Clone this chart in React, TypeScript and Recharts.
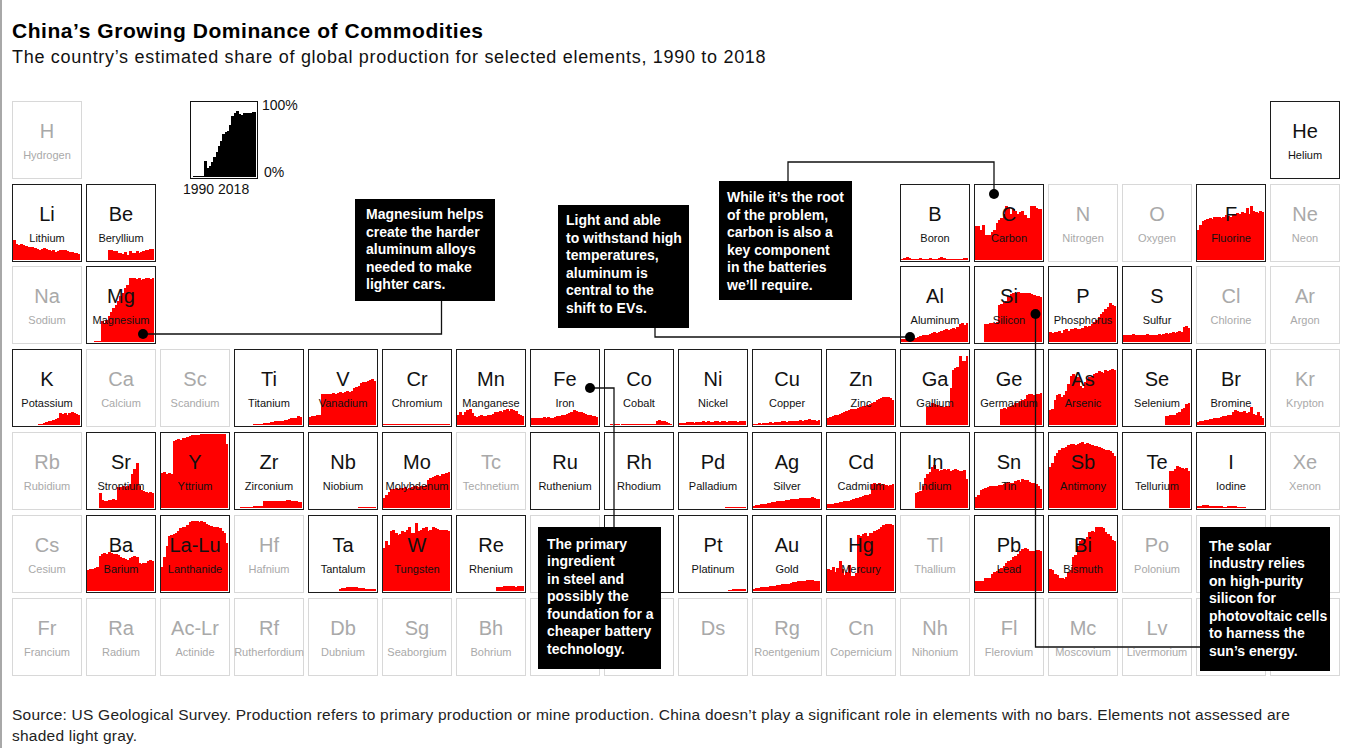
import React from 'react';
import { BarChart, Bar, XAxis, YAxis } from 'recharts';

// ---------- categories ----------
const YEARS = [
  '1990','1991','1992','1993','1994','1995','1996','1997','1998','1999',
  '2000','2001','2002','2003','2004','2005','2006','2007','2008','2009',
  '2010','2011','2012','2013','2014','2015','2016','2017','2018',
];

// ---------- series values (China share of global production, %) ----------
const legendV = [0,1,1,2,2,2,22,12,15,20,27,33,42,48,57,60,62,70,82,86,88,84,83,86,85,86,85,87,87];
const liV = [27,21,20,22,20,19,18,17,18,16,15,14,15,16,15,14,12,13,11,12,13,14,13,12,11,11,10,9,8];
const beV = [0,0,0,0,0,0,0,0,0,13,14,12,12,9,10,8,11,7,12,9,10,12,9,11,12,13,14,15,15];
const bV = [2,3,4,3,2,2,2,2,3,2,2,2,3,2,2,2,3,4,3,2,2,2,2,2,2,2,2,3,3];
const cV = [45,46,40,47,34,33,33,37,40,49,53,56,62,72,70,62,68,66,62,64,66,60,56,56,72,72,70,68,68];
const fV = [40,47,52,54,55,56,55,57,58,57,56,58,60,59,58,61,60,63,62,64,63,70,62,72,65,64,63,66,64];
const mgV = [0,0,0,1,1,1,28,26,30,35,40,45,50,55,62,66,72,76,86,85,86,84,85,83,84,86,85,84,85];
const alV = [4,4,5,4,5,6,6,7,8,9,9,10,11,12,13,12,14,15,16,17,16,18,19,18,20,24,26,23,25];
const siV = [0,0,0,0,24,24,25,26,26,27,50,51,53,55,62,64,66,66,67,66,65,66,66,65,64,63,62,61,60];
const pV = [13,12,14,13,15,12,16,17,15,18,17,19,18,17,19,21,20,22,24,27,30,33,37,40,44,47,52,50,48];
const sV = [9,10,9,10,11,10,10,9,9,10,11,10,10,9,10,11,10,11,12,11,12,13,12,14,15,14,20,21,19];
const kV = [0,0,0,0,0,0,0,0,0,0,0,1,2,3,4,5,6,7,8,10,16,15,16,14,16,17,16,15,14];
const tiV = [0,0,0,0,0,0,0,0,1,1,2,2,3,3,3,4,4,5,5,6,6,7,7,8,9,9,10,12,11];
const vV = [11,12,12,13,13,41,41,42,41,42,43,42,43,44,43,44,45,44,45,50,51,52,56,57,58,59,60,61,59];
const crV = [1,1,1,1,1,1,1,1,2,2,2,2,2,2,2,2,2,2,2,2,2,2,2,2,2,2,2,2,2];
const mnV = [14,17,13,18,20,21,16,12,11,12,13,12,12,13,13,15,17,18,19,18,20,22,19,21,20,19,15,13,12];
const feV = [10,9,10,9,10,11,10,11,10,10,11,12,12,13,14,15,16,18,20,19,18,17,16,15,14,13,12,12,11];
const coV = [0,0,1,0,1,1,0,1,2,1,1,1,1,2,1,1,2,2,1,2,2,2,6,7,6,5,4,3,2];
const niV = [3,3,3,4,4,4,3,4,4,4,5,4,5,4,4,5,5,4,5,5,4,5,6,5,5,4,5,5,5];
const cuV = [2,2,3,2,3,3,3,4,3,4,4,4,5,5,4,5,6,5,6,6,7,6,7,7,8,7,7,6,7];
const znV = [9,11,12,13,14,15,16,17,19,20,21,22,22,23,24,25,26,27,28,29,31,33,35,36,37,38,37,36,33];
const gaV = [0,0,0,0,0,0,0,0,0,0,0,24,25,29,28,27,26,25,24,25,26,50,74,76,77,92,86,85,92];
const geV = [0,0,0,0,0,0,0,0,0,0,0,22,23,22,24,25,27,29,30,32,33,35,40,41,42,40,41,42,43];
const asV = [20,22,34,40,42,38,40,45,55,65,68,66,64,52,50,58,62,64,66,68,70,72,71,70,73,72,74,75,73];
const seV = [0,0,0,0,0,0,0,0,0,0,0,0,0,0,0,0,0,0,12,12,13,13,14,16,17,22,23,28,29];
const brV = [4,5,6,7,7,8,8,9,9,10,11,12,12,13,14,18,20,19,17,18,19,16,17,24,15,13,17,12,10];
const srV = [0,0,0,0,0,20,11,10,10,11,11,12,11,28,28,29,28,30,32,45,52,60,30,24,23,21,20,21,20];
const yV = [47,48,46,47,45,90,91,92,91,93,94,95,96,97,97,98,98,99,99,99,99,99,99,99,99,99,99,99,85];
const zrV = [0,0,1,1,1,1,2,2,3,3,3,3,9,9,9,10,9,9,9,10,10,9,11,11,10,9,9,8,8];
const nbV = [0,0,0,0,0,0,0,0,0,0,0,0,0,0,0,0,0,0,0,0,0,1,1,1,1,1,1,1,1];
const moV = [14,18,22,25,26,27,26,27,27,28,26,27,28,29,30,28,29,30,31,37,40,42,43,44,43,45,46,47,48];
const pdV = [0,0,0,0,0,0,0,0,0,0,0,0,0,0,0,0,0,0,0,0,2,2,2,2,2,2,2,2,2];
const agV = [3,4,4,5,6,6,7,7,8,8,9,9,10,10,11,11,12,12,12,12,13,13,13,14,13,15,13,12,12];
const cdV = [5,6,6,7,7,8,8,9,9,10,11,12,13,14,15,16,17,18,19,32,33,32,33,31,32,31,30,31,32];
const inV = [0,0,0,0,0,0,20,22,23,30,40,45,48,55,58,52,50,51,52,51,52,50,51,52,51,49,50,51,39];
const snV = [15,17,24,26,27,28,29,29,30,30,31,31,32,34,35,33,34,36,37,35,39,38,37,35,34,33,32,30,26];
const sbV = [55,60,70,74,78,80,80,82,84,86,85,84,86,87,88,86,87,85,84,83,83,82,80,79,78,77,76,74,70];
const teV = [0,0,0,0,0,0,0,0,0,0,0,0,0,0,0,0,0,0,0,0,49,50,52,56,55,53,52,54,50];
const iV = [3,3,4,4,4,3,3,3,3,3,3,2,2,3,3,3,3,2,2,2,2,0,0,0,0,0,0,0,0];
const baV = [28,29,30,31,32,47,50,51,50,52,51,49,50,48,46,44,43,42,44,45,47,46,38,36,37,38,40,41,40];
const laluV = [32,45,60,74,75,76,77,80,84,85,86,88,92,93,93,93,92,93,92,90,88,87,86,85,86,84,80,78,64];
const taV = [0,0,0,0,0,0,0,0,0,0,0,0,0,3,4,4,5,6,5,6,5,4,4,4,3,3,3,3,3];
const wV = [58,67,62,80,82,78,75,76,80,79,82,85,78,77,91,80,82,84,85,80,82,86,84,83,82,81,82,81,80];
const reV = [0,0,0,0,0,0,0,0,0,0,0,0,0,0,0,0,0,6,6,6,7,7,7,7,7,6,7,7,7];
const ptV = [0,0,0,0,0,0,0,0,0,0,0,0,0,0,0,0,0,0,0,0,0,2,2,3,3,3,3,3,3];
const auV = [3,4,4,5,5,6,6,7,7,7,8,8,9,9,10,10,11,12,12,13,13,14,14,15,15,15,14,14,13];
const hgV = [30,28,32,26,31,40,30,22,25,35,20,20,24,75,74,76,78,73,77,78,80,82,83,85,88,89,90,89,88];
const pbV = [13,13,13,14,17,17,18,23,25,27,29,31,33,38,40,42,45,47,50,53,56,57,56,54,53,53,55,55,54];
const biV = [30,28,23,22,18,17,16,19,26,28,46,48,60,67,68,70,72,79,80,79,85,86,85,84,79,76,73,68,67];

const SERIES: Record<string, number[]> = {
  Li: liV, Be: beV, B: bV, C: cV, F: fV, Mg: mgV, Al: alV, Si: siV, P: pV, S: sV,
  K: kV, Ti: tiV, V: vV, Cr: crV, Mn: mnV, Fe: feV, Co: coV, Ni: niV, Cu: cuV, Zn: znV,
  Ga: gaV, Ge: geV, As: asV, Se: seV, Br: brV, Sr: srV, Y: yV, Zr: zrV, Nb: nbV, Mo: moV,
  Pd: pdV, Ag: agV, Cd: cdV, In: inV, Sn: snV, Sb: sbV, Te: teV, I: iV, Ba: baV,
  'La-Lu': laluV, Ta: taV, W: wV, Re: reV, Pt: ptV, Au: auV, Hg: hgV, Pb: pbV, Bi: biV,
};

// ---------- table of elements: [symbol, name, column, assessed] ----------
type El = [string, string, number, boolean];
const ROW_0: El[] = [['H','Hydrogen',0,false],['He','Helium',17,true]];
const ROW_1: El[] = [['Li','Lithium',0,true],['Be','Beryllium',1,true],['B','Boron',12,true],['C','Carbon',13,true],['N','Nitrogen',14,false],['O','Oxygen',15,false],['F','Fluorine',16,true],['Ne','Neon',17,false]];
const ROW_2: El[] = [['Na','Sodium',0,false],['Mg','Magnesium',1,true],['Al','Aluminum',12,true],['Si','Silicon',13,true],['P','Phosphorus',14,true],['S','Sulfur',15,true],['Cl','Chlorine',16,false],['Ar','Argon',17,false]];
const ROW_3: El[] = [['K','Potassium',0,true],['Ca','Calcium',1,false],['Sc','Scandium',2,false],['Ti','Titanium',3,true],['V','Vanadium',4,true],['Cr','Chromium',5,true],['Mn','Manganese',6,true],['Fe','Iron',7,true],['Co','Cobalt',8,true],['Ni','Nickel',9,true],['Cu','Copper',10,true],['Zn','Zinc',11,true],['Ga','Gallium',12,true],['Ge','Germanium',13,true],['As','Arsenic',14,true],['Se','Selenium',15,true],['Br','Bromine',16,true],['Kr','Krypton',17,false]];
const ROW_4: El[] = [['Rb','Rubidium',0,false],['Sr','Strontium',1,true],['Y','Yttrium',2,true],['Zr','Zirconium',3,true],['Nb','Niobium',4,true],['Mo','Molybdenum',5,true],['Tc','Technetium',6,false],['Ru','Ruthenium',7,true],['Rh','Rhodium',8,true],['Pd','Palladium',9,true],['Ag','Silver',10,true],['Cd','Cadmium',11,true],['In','Indium',12,true],['Sn','Tin',13,true],['Sb','Antimony',14,true],['Te','Tellurium',15,true],['I','Iodine',16,true],['Xe','Xenon',17,false]];
const ROW_5: El[] = [['Cs','Cesium',0,false],['Ba','Barium',1,true],['La-Lu','Lanthanide',2,true],['Hf','Hafnium',3,false],['Ta','Tantalum',4,true],['W','Tungsten',5,true],['Re','Rhenium',6,true],['Os','Osmium',7,false],['Ir','Iridium',8,true],['Pt','Platinum',9,true],['Au','Gold',10,true],['Hg','Mercury',11,true],['Tl','Thallium',12,false],['Pb','Lead',13,true],['Bi','Bismuth',14,true],['Po','Polonium',15,false],['At','Astatine',16,false],['Rn','Radon',17,false]];
const ROW_6: El[] = [['Fr','Francium',0,false],['Ra','Radium',1,false],['Ac-Lr','Actinide',2,false],['Rf','Rutherfordium',3,false],['Db','Dubnium',4,false],['Sg','Seaborgium',5,false],['Bh','Bohrium',6,false],['Hs','Hassium',7,false],['Mt','Meitnerium',8,false],['Ds','',9,false],['Rg','Roentgenium',10,false],['Cn','Copernicium',11,false],['Nh','Nihonium',12,false],['Fl','Flerovium',13,false],['Mc','Moscovium',14,false],['Lv','Livermorium',15,false],['Ts','Tennessine',16,false],['Og','Oganesson',17,false]];
const ROWS = [ROW_0, ROW_1, ROW_2, ROW_3, ROW_4, ROW_5, ROW_6];
// cells whose labels sit entirely under an annotation box
const COVERED = ['Os', 'Ir', 'At', 'Rn', 'Hs', 'Mt', 'Ts', 'Og'];

// ---------- annotation texts ----------
const NOTE_MG = ['Magnesium helps', 'create the harder', 'aluminum alloys', 'needed to make', 'lighter cars.'];
const NOTE_AL = ['Light and able', 'to withstand high', 'temperatures,', 'aluminum is', 'central to the', 'shift to EVs.'];
const NOTE_C = ['While it\u2019s the root', 'of the problem,', 'carbon is also a', 'key component', 'in the batteries', 'we\u2019ll require.'];
const NOTE_FE = ['The primary', 'ingredient', 'in steel and', 'possibly the', 'foundation for a', 'cheaper battery', 'technology.'];
const NOTE_SI = ['The solar', 'industry relies', 'on high-purity', 'silicon for', 'photovoltaic cells', 'to harness the', 'sun\u2019s energy.'];

const FONT = '"Liberation Sans", Arial, Helvetica, sans-serif';
const RED = '#ff0000';

const toData = (vals: number[]) => YEARS.map((y, i) => ({ year: y, v: vals[i] }));

// bar shape that closes the sub-pixel seams between neighbouring years
const SolidBar = (props: any) => {
  const { x, y, width, height, fill } = props;
  if (!height || height <= 0 || !isFinite(x) || !isFinite(y)) return null;
  return <rect x={x} y={y} width={width + 1} height={height} fill={fill} shapeRendering="crispEdges" />;
};

function MiniBars({ vals, w, h, color }: { vals: number[]; w: number; h: number; color: string }) {
  return (
    <BarChart width={w} height={h} data={toData(vals)} margin={{ top: 0, right: 0, bottom: 0, left: 0 }} barCategoryGap={0} barGap={0}>
      <XAxis dataKey="year" hide />
      <YAxis hide domain={[0, 100]} allowDataOverflow />
      <Bar dataKey="v" fill={color} shape={SolidBar} isAnimationActive={false} />
    </BarChart>
  );
}

function Cell({ el, row }: { el: El; row: number }) {
  const [sym, name, col, assessed] = el;
  const left = 12 + 74 * col;
  const top = Math.round(100.7 + 82.8 * row);
  const vals = SERIES[sym];
  const color = assessed ? '#111' : '#a9a9a9';
  const covered = COVERED.includes(sym);
  return (
    <div style={{ position: 'absolute', left, top, width: 70, height: 78, boxSizing: 'border-box', border: `1.5px solid ${assessed ? '#1c1c1c' : '#d8d8d8'}`, background: '#fff', zIndex: 1 }}>
      {vals && (
        <div style={{ position: 'absolute', left: 0, top: 0, width: 67, height: 75, overflow: 'hidden' }}>
          <MiniBars vals={vals} w={67} h={75} color={RED} />
        </div>
      )}
      {!covered && (
        <div style={{ position: 'absolute', left: '50%', transform: 'translateX(-50%)', top: 19.3, fontSize: 20, lineHeight: '20px', color, whiteSpace: 'nowrap' }}>{sym}</div>
      )}
      {!covered && name && (
        <div style={{ position: 'absolute', left: '50%', transform: 'translateX(-50%)', top: 47.9, fontSize: 11, lineHeight: '11px', color, whiteSpace: 'nowrap' }}>{name}</div>
      )}
    </div>
  );
}

function Note({ lines, left, top, width, height, padL, padT }: { lines: string[]; left: number; top: number; width: number; height: number; padL: number; padT: number }) {
  return (
    <div style={{ position: 'absolute', left, top, width, height, boxSizing: 'border-box', background: '#000', color: '#fff', fontWeight: 'bold', fontSize: 14, lineHeight: '17.6px', paddingLeft: padL, paddingTop: padT, zIndex: 3, whiteSpace: 'nowrap' }}>
      {lines.map((l, i) => <div key={i}>{l}</div>)}
    </div>
  );
}

export default function App() {
  return (
    <div style={{ position: 'absolute', left: 0, top: 0, width: 1353, height: 748, background: '#fff', fontFamily: FONT, overflow: 'hidden' }}>
      <div style={{ position: 'absolute', left: 0, top: 0, width: 1.5, height: 748, background: '#a8a8a8' }} />
      <div style={{ position: 'absolute', left: 12, top: 19.5, fontSize: 21, lineHeight: '21px', letterSpacing: 0.55, fontWeight: 'bold', color: '#000', whiteSpace: 'nowrap' }}>
        China’s Growing Dominance of Commodities
      </div>
      <div style={{ position: 'absolute', left: 12, top: 48, fontSize: 18, lineHeight: '18px', letterSpacing: 0.7, color: '#111', whiteSpace: 'nowrap' }}>
        The country’s estimated share of global production for selected elements, 1990 to 2018
      </div>

      {/* legend */}
      <div style={{ position: 'absolute', left: 190, top: 101, width: 68, height: 78, boxSizing: 'border-box', border: '1.5px solid #111', background: '#fff' }}>
        <div style={{ width: 65, height: 75, overflow: 'hidden' }}>
          <MiniBars vals={legendV} w={65} h={75} color="#000" />
        </div>
      </div>
      <div style={{ position: 'absolute', left: 262, top: 97, fontSize: 14, lineHeight: '16px', color: '#111' }}>100%</div>
      <div style={{ position: 'absolute', left: 264, top: 164, fontSize: 14, lineHeight: '16px', color: '#111' }}>0%</div>
      <div style={{ position: 'absolute', left: 183, top: 181, fontSize: 14, lineHeight: '16px', color: '#111', whiteSpace: 'nowrap' }}>1990 2018</div>

      {ROWS.map((r, ri) => r.map((el) => <Cell key={el[0]} el={el} row={ri} />))}

      <svg width={1353} height={748} style={{ position: 'absolute', left: 0, top: 0, zIndex: 2, pointerEvents: 'none' }}>
        <g fill="none" stroke="#111" strokeWidth={1.3}>
          <polyline points="441.5,301 441.5,334 143,334" />
          <polyline points="655,328 655,337 910,337" />
          <polyline points="788,181 788,162 994,162 994,194" />
          <polyline points="590,388 614,388 614,527" />
          <polyline points="1035.5,314 1035.5,647 1200,647" />
        </g>
        <g fill="#000">
          <circle cx={143} cy={334} r={5} />
          <circle cx={910} cy={337} r={5} />
          <circle cx={994} cy={194} r={5} />
          <circle cx={590} cy={388} r={5} />
          <circle cx={1035.5} cy={314} r={5} />
        </g>
      </svg>

      <Note lines={NOTE_MG} left={355} top={199} width={140} height={102} padL={11} padT={7} />
      <Note lines={NOTE_AL} left={558} top={205} width={131} height={123} padL={8} padT={7} />
      <Note lines={NOTE_C} left={719} top={181} width={133} height={119} padL={8} padT={8} />
      <Note lines={NOTE_FE} left={538} top={527} width={123} height={142} padL={9} padT={8.5} />
      <Note lines={NOTE_SI} left={1200} top={527} width={130} height={144} padL={9} padT={10.5} />

      <div style={{ position: 'absolute', left: 12, top: 704, fontSize: 15.5, lineHeight: '21px', letterSpacing: 0.23, color: '#222', whiteSpace: 'nowrap' }}>
        Source: US Geological Survey. Production refers to primary production or mine production. China doesn’t play a significant role in elements with no bars. Elements not assessed are
        <br />
        shaded light gray.
      </div>
    </div>
  );
}
